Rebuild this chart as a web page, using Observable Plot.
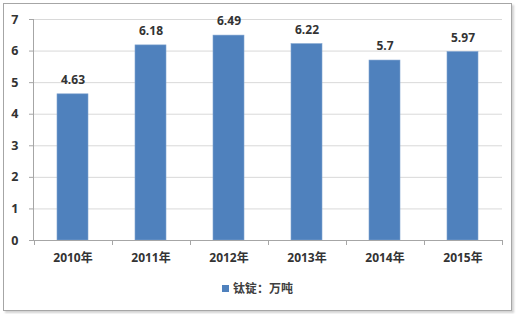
<!DOCTYPE html>
<html>
<head>
<meta charset="utf-8">
<script src="https://cdn.jsdelivr.net/npm/d3@7"></script>
<script src="https://cdn.jsdelivr.net/npm/@observablehq/plot@0.6"></script>
<style>
  html, body { margin: 0; padding: 0; background: #fff; }
  #wrap { position: relative; width: 520px; height: 314px; overflow: hidden; }
  #frame { position: absolute; left: 3px; top: 3px; width: 507px; height: 306px; border: 1px solid #a6a6a6; box-shadow: 2px 2px 2px rgba(0,0,0,0.18); }
  #chart { position: absolute; left: 0; top: 0; }
  #legend { position: absolute; left: 222px; top: 279px; font: bold 12px "Noto Sans CJK SC", sans-serif; color: #404040; display: flex; align-items: center; }
  #legend .sw { width: 7px; height: 7px; background: #4F81BD; margin-right: 4px; margin-top: 2px; }
</style>
</head>
<body>
<div id="wrap">
  <div id="frame"></div>
  <div id="chart"></div>
  <div id="legend"><span class="sw"></span><span id="legtext"></span></div>
</div>
<script>
const categories = ["2010年", "2011年", "2012年", "2013年", "2014年", "2015年"];
const values = [4.63, 6.18, 6.49, 6.22, 5.7, 5.97];
const valueLabels = ["4.63", "6.18", "6.49", "6.22", "5.7", "5.97"];
const yTicks = [0, 1, 2, 3, 4, 5, 6, 7];
const seriesName = "钛锭：万吨";

const data = categories.map((c, i) => ({cat: c, value: values[i], label: valueLabels[i]}));

const fontFam = "'Open Sans', 'Noto Sans CJK SC', sans-serif";

function boundaryTicks(index, scales, values, dims) {
  const x = scales.x;
  const y = scales.y;
  const step = x.step();
  const y0 = y(0);
  const g = d3.create("svg:g").attr("stroke", "#a6a6a6").attr("stroke-width", 1);
  const doms = x.domain();
  const pos = doms.map(d => x(d) - (step - x.bandwidth()) / 2);
  pos.push(x(doms[doms.length - 1]) + x.bandwidth() + (step - x.bandwidth()) / 2);
  for (const p of pos) {
    g.append("line").attr("x1", Math.round(p) + 0.5).attr("x2", Math.round(p) + 0.5).attr("y1", y0).attr("y2", y0 + 5);
  }
  return g.node();
}

const plot = Plot.plot({
  width: 520,
  height: 314,
  marginLeft: 33,
  marginRight: 18,
  marginTop: 19,
  marginBottom: 74,
  style: { fontFamily: fontFam, background: "transparent", overflow: "visible" },
  x: { domain: categories, paddingInner: 0.6, paddingOuter: 0.3, label: null },
  y: { domain: [0, 7], label: null },
  marks: [
    Plot.ruleY(yTicks.filter(d => d > 0), { stroke: "#d9d9d9", strokeWidth: 1, strokeOpacity: 1 }),
    Plot.barY(data, { x: "cat", y: "value", fill: "#4F81BD", stroke: "#7fa3cf", strokeWidth: 0.6 }),
    Plot.ruleY([0], { stroke: "#a6a6a6", strokeOpacity: 1 }),
    Plot.frame({ anchor: "left", stroke: "#a6a6a6", strokeOpacity: 1 }),
    Plot.axisY({ ticks: yTicks, tickSize: 4, tickPadding: 11, stroke: "#a6a6a6", fontSize: 12.5, fontWeight: "bold", fill: "#333", tickFormat: d => String(d) }),
    Plot.axisX({ tickSize: 0, tickPadding: 13, fontSize: 12, fontWeight: "bold", fill: "#333" }),
    Plot.text(data, { x: "cat", y: "value", text: "label", dy: -14, fontSize: 12, fontWeight: "bold", fill: "#333" }),
    boundaryTicks
  ]
});

document.getElementById("chart").appendChild(plot);
document.getElementById("legtext").textContent = seriesName;
</script>
</body>
</html>
